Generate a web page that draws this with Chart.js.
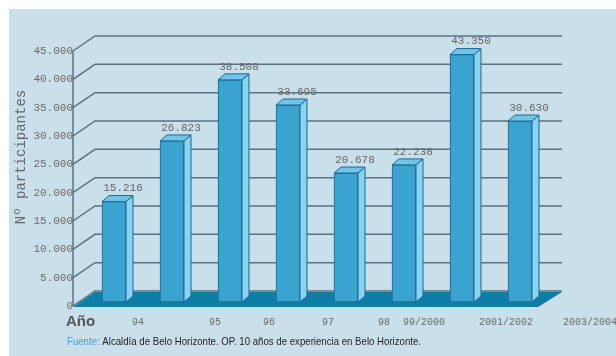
<!DOCTYPE html>
<html><head><meta charset="utf-8">
<script src="https://cdn.jsdelivr.net/npm/chart.js@4.4.1/dist/chart.umd.min.js"></script>
<style>html,body{margin:0;padding:0;background:#fff;overflow:hidden}#wrap{width:616px;height:356px}</style>
</head><body><div id="wrap"><canvas id="c" width="616" height="356"></canvas></div>
<script>
// ---- data ----
const categories = ['94', '95', '96', '97', '98', '99/2000', '2001/2002', '2003/2004'];
const participants = [15216, 26823, 38508, 33695, 20678, 22238, 43350, 30630];
const yTicks = [0, 5000, 10000, 15000, 20000, 25000, 30000, 35000, 40000, 45000];
const yTitle = 'Nº participantes';
const xTitle = 'Año';
const sourceLabel = 'Fuente:';
const sourceText = 'Alcaldía de Belo Horizonte. OP. 10 años de experiencia en Belo Horizonte.';

// ---- layout / style (no data) ----
const S = {
  bg: '#c9dfea', frontFace: '#3ba3cf', sideFace: '#88d3f1', topFace: '#72c5e9', edge: '#1d6890',
  floor: '#0f7ea6', grid: 'rgba(85,108,122,0.95)', tickColor: '#6a6a6a',
  frontGap: 12, wallDX: 22, wallDY: 15, barDX: 7, barDY: 6, floorFrontInset: 11,
  xLabelShift: [24, 43, 39, 40, 38, 20, 44, 70], xLabelY: 322, valueDX: 9, valueDY: 13
};
const fmt = v => String(v).replace(/\B(?=(\d{3})+(?!\d))/g, '.');

const threeD = {
  id: 'threeD',
  beforeDraw(chart) {
    const c = chart.ctx;
    c.save();
    c.fillStyle = '#ffffff'; c.fillRect(0, 0, chart.width, chart.height);
    c.fillStyle = S.bg; c.fillRect(9, 9, chart.width - 9, chart.height - 9);
    c.restore();
  },
  beforeDatasetsDraw(chart) {
    const c = chart.ctx, y = chart.scales.y, a = chart.chartArea;
    const fx = a.left - S.frontGap, bx = fx + S.wallDX, rx = a.right + 13;
    c.save();
    c.strokeStyle = S.grid; c.lineWidth = 1.5;
    // front axis
    c.beginPath(); c.moveTo(fx, y.getPixelForValue(45000)); c.lineTo(fx, y.getPixelForValue(0)); c.stroke();
    yTicks.forEach(v => {
      const py = y.getPixelForValue(v);
      c.beginPath(); c.moveTo(fx, py); c.lineTo(bx, py - S.wallDY); c.lineTo(rx, py - S.wallDY); c.stroke();
    });
    // floor
    const y0 = y.getPixelForValue(0) + 1;
    c.fillStyle = S.floor;
    c.beginPath();
    c.moveTo(fx, y0); c.lineTo(bx, y0 - S.wallDY); c.lineTo(rx, y0 - S.wallDY); c.lineTo(a.right - S.floorFrontInset, y0);
    c.closePath(); c.fill();
    c.restore();
  },
  afterDatasetsDraw(chart) {
    const c = chart.ctx, meta = chart.getDatasetMeta(0);
    c.save();
    c.lineWidth = 1; c.strokeStyle = S.edge; c.lineJoin = 'round';
    meta.data.forEach((bar, i) => {
      const l = bar.x - bar.width / 2, r = bar.x + bar.width / 2, t = bar.y, b = bar.base;
      c.fillStyle = S.sideFace;
      c.beginPath(); c.moveTo(r, t); c.lineTo(r + S.barDX, t - S.barDY); c.lineTo(r + S.barDX, b - S.barDY); c.lineTo(r, b); c.closePath(); c.fill(); c.stroke();
      c.fillStyle = S.topFace;
      c.beginPath(); c.moveTo(l, t); c.lineTo(l + S.barDX, t - S.barDY); c.lineTo(r + S.barDX, t - S.barDY); c.lineTo(r, t); c.closePath(); c.fill(); c.stroke();
      c.fillStyle = '#666';
      c.font = '11px "Liberation Mono", monospace';
      c.textAlign = 'center'; c.textBaseline = 'middle';
      c.fillText(fmt(participants[i]), bar.x + S.valueDX, t - S.valueDY);
    });
    c.restore();
  },
  afterDraw(chart) {
    const c = chart.ctx, x = chart.scales.x;
    c.save();
    // x labels
    c.fillStyle = '#6a6a6a'; c.font = '10px "Liberation Mono", monospace';
    c.textAlign = 'center'; c.textBaseline = 'middle';
    categories.forEach((lab, i) => c.fillText(lab, x.getPixelForValue(i) + S.xLabelShift[i], S.xLabelY));
    // x title
    c.fillStyle = '#555'; c.font = 'bold 15px "Liberation Sans", Arial, sans-serif'; c.textAlign = 'left';
    c.fillText(xTitle, 66, S.xLabelY);
    // y title
    c.save();
    c.translate(21, 157); c.rotate(-Math.PI / 2);
    c.fillStyle = '#666'; c.font = '14px "Liberation Mono", monospace'; c.textAlign = 'center';
    c.fillText(yTitle, 0, 0);
    c.restore();
    // source
    c.font = '11px "Liberation Sans", Arial, sans-serif'; c.textAlign = 'left';
    const w1 = c.measureText(sourceLabel + ' ').width, w2 = c.measureText(sourceText).width;
    const k = 354 / (w1 + w2);
    c.translate(67, 342); c.scale(k, 1);
    c.fillStyle = '#3aa0e0'; c.fillText(sourceLabel, 0, 0);
    c.fillStyle = '#222'; c.fillText(sourceText, w1, 0);
    c.restore();
  }
};

new Chart(document.getElementById('c'), {
  type: 'bar',
  data: {
    labels: categories,
    datasets: [{
      data: participants, yAxisID: 'yBar', base: -4000,
      backgroundColor: S.frontFace, borderColor: S.edge, borderWidth: 1, borderSkipped: false,
      barThickness: 24
    }]
  },
  options: {
    responsive: false, animation: false, devicePixelRatio: 1,
    layout: { padding: { left: 0, right: 67, top: 51, bottom: 50 } },
    plugins: { legend: { display: false }, tooltip: { enabled: false } },
    scales: {
      x: { display: false },
      y: {
        position: 'left', min: 0, max: 45000,
        afterBuildTicks: s => { s.ticks = yTicks.map(v => ({ value: v })); },
        afterFit: s => { s.width = 85; },
        grid: { display: false, drawTicks: false }, border: { display: false },
        ticks: { padding: 12, color: S.tickColor, font: { family: 'Liberation Mono', size: 11 }, callback: v => fmt(v) }
      },
      yBar: { display: false, min: -4765, max: 44030 }
    }
  },
  plugins: [threeD]
});
</script>
</body></html>
